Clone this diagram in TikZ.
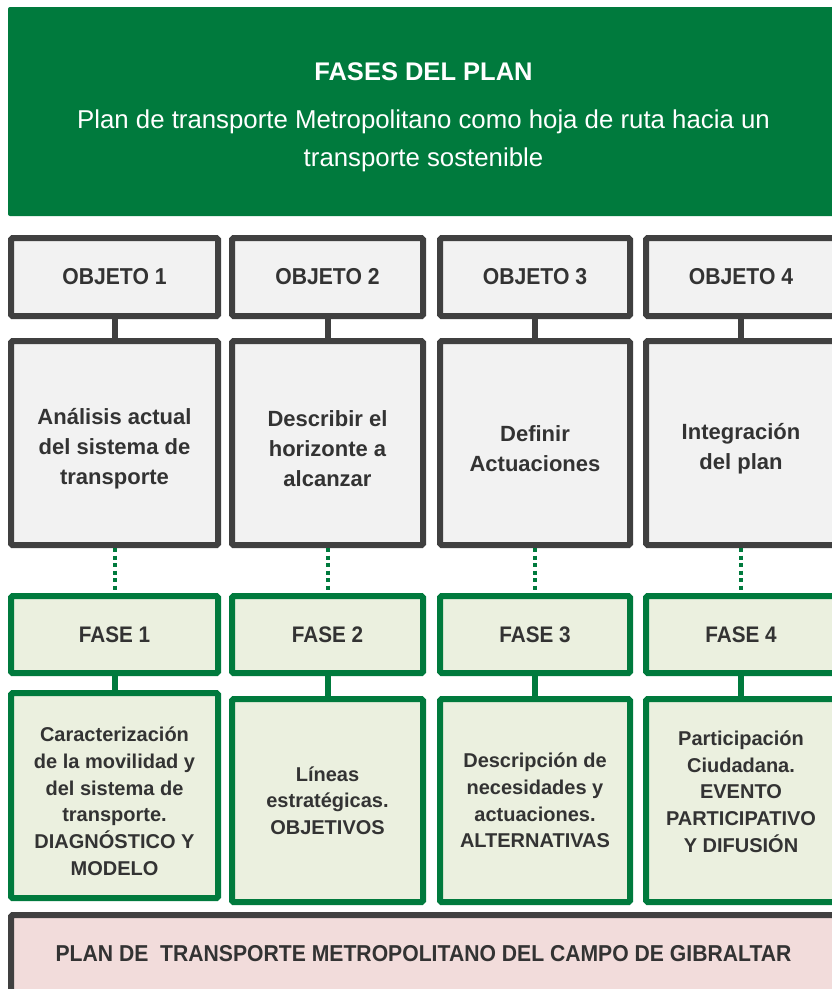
\documentclass[tikz,border=0pt]{standalone}
\usepackage{fontspec}
\setmainfont{Liberation Sans}
\newfontfamily\cond[FakeStretch=0.92]{Liberation Sans}
\definecolor{fgreen}{HTML}{007A3D}
\definecolor{dgray}{HTML}{404040}
\definecolor{lgray}{HTML}{F2F2F2}
\definecolor{lgreen}{HTML}{EBF0DF}
\definecolor{lpink}{HTML}{F2DCDB}
\definecolor{txt}{HTML}{333333}
\begin{document}
\begin{tikzpicture}[x=1pt,y=-1pt,
 box/.style={rectangle, line width=6pt, rounded corners=1.5pt, inner sep=0pt, text=txt, align=center},
 objbox/.style={box, draw=dgray, fill=lgray, minimum height=78pt, font=\cond\bfseries\fontsize{23}{28}\selectfont},
 objtext/.style={box, draw=dgray, fill=lgray, minimum height=204pt, font=\bfseries\fontsize{22}{30}\selectfont},
 fasebox/.style={box, draw=fgreen, fill=lgreen, minimum height=77pt, font=\cond\bfseries\fontsize{22.5}{28}\selectfont},
 fasetext/.style={box, draw=fgreen, fill=lgreen, font=\bfseries\fontsize{20}{26.7}\selectfont},
 grayline/.style={draw=dgray, line width=6pt},
 greenline/.style={draw=fgreen, line width=6pt},
 dotline/.style={draw=fgreen, line width=4pt, dash pattern=on 4pt off 3.5pt},
]
\useasboundingbox (0,0) rectangle (832,989);
\clip (0,0) rectangle (832,989);
\fill[white] (0,0) rectangle (832,989);

% header
\node[fill=fgreen, rounded corners=2pt, minimum width=831pt, minimum height=209pt, inner sep=0pt] (head) at (423.5,111.5) {};
\node[text=white, font=\bfseries\fontsize{25.5}{30}\selectfont, anchor=base] (title) at (423.5,80) {FASES DEL PLAN};
\node[text=white, font=\fontsize{25.8}{38}\selectfont, align=center] (subtitle) at (423.5,140.4)
  {Plan de transporte Metropolitano como hoja de ruta hacia un\\transporte sostenible};

% objeto row
\node[objbox, minimum width=207pt] (o1) at (114.5,277) {OBJETO 1};
\node[objbox, minimum width=191pt] (o2) at (327.5,277) {OBJETO 2};
\node[objbox, minimum width=190pt] (o3) at (535,277) {OBJETO 3};
\node[objbox, minimum width=190pt] (o4) at (741,277) {OBJETO 4};

\node[objtext, minimum width=207pt] (t1) at (114.5,443) {\rule{0pt}{28pt}Análisis actual\\del sistema de\\transporte};
\node[objtext, minimum width=191pt] (t2) at (327.5,443) {\rule{0pt}{28pt}Describir el\\horizonte a\\alcanzar};
\node[objtext, minimum width=190pt] (t3) at (535,443) {\rule{0pt}{28pt}Definir\\Actuaciones};
\node[objtext, minimum width=190pt] (t4) at (741,443) {\rule{0pt}{28pt}Integración\\del plan};

% fase row
\node[fasebox, minimum width=207pt] (f1) at (114.5,634.5) {FASE 1};
\node[fasebox, minimum width=191pt] (f2) at (327.5,634.5) {FASE 2};
\node[fasebox, minimum width=190pt] (f3) at (535,634.5) {FASE 3};
\node[fasebox, minimum width=190pt] (f4) at (741,634.5) {FASE 4};

\node[fasetext, minimum width=207pt, minimum height=205pt] (d1) at (114.5,795.5)
  {\rule{0pt}{26pt}Caracterización\\de la movilidad y\\del sistema de\\transporte.\\DIAGNÓSTICO Y\\MODELO};
\node[fasetext, minimum width=191pt, minimum height=203pt] (d2) at (327.5,800.5)
  {Líneas\\estratégicas.\\OBJETIVOS};
\node[fasetext, minimum width=190pt, minimum height=203pt] (d3) at (535,800.5)
  {Descripción de\\necesidades y\\actuaciones.\\ALTERNATIVAS};
\node[fasetext, minimum width=190pt, minimum height=203pt] (d4) at (741,800.5)
  {Participación\\Ciudadana.\\EVENTO\\PARTICIPATIVO\\Y DIFUSIÓN\\[-8.7pt]};

% bottom
\node[box, draw=dgray, fill=lpink, minimum width=825pt, minimum height=77pt,
  font=\cond\bfseries\fontsize{23}{28}\selectfont] (plan) at (423.5,953.5)
  {PLAN DE\ \ TRANSPORTE METROPOLITANO DEL CAMPO DE GIBRALTAR};

% connectors
\foreach \i in {1,2,3,4} {
  \draw[grayline] (o\i.south) -- (t\i.north);
  \draw[dotline] (t\i.south) -- (f\i.north);
  \draw[greenline] (f\i.south) -- (d\i.north);
}
\end{tikzpicture}
\end{document}
